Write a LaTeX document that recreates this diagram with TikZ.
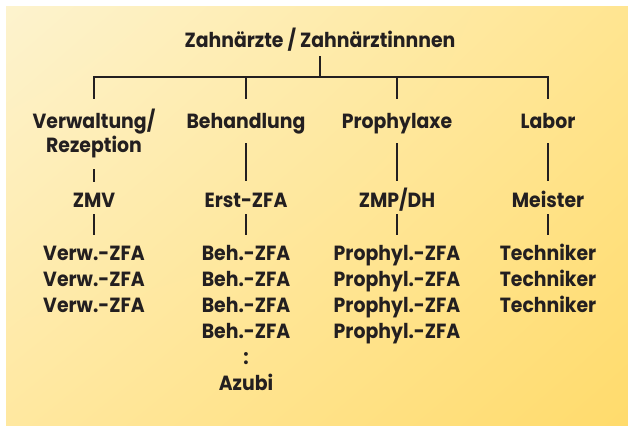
\documentclass[tikz,border=0pt]{standalone}
\usepackage{fontspec}
\setmainfont{Poppins}[UprightFont=* Bold, FakeStretch=0.92]
\usetikzlibrary{shadings}
\definecolor{ink}{RGB}{35,31,32}
\definecolor{bgUL}{RGB}{253,243,206}
\definecolor{bgUR}{RGB}{255,229,145}
\definecolor{bgLL}{RGB}{255,232,160}
\definecolor{bgLR}{RGB}{255,219,108}
\tikzset{
  lbl/.style={inner sep=0pt, text height=14pt, text depth=0pt, anchor=base,
    font=\fontsize{20.5}{20.5}\selectfont, text=ink},
  conn/.style={draw=ink, line width=2.6pt}
}
\begin{document}
\begin{tikzpicture}[x=1pt,y=-1pt]
\useasboundingbox (0,0) rectangle (628,425);
\fill[white] (0,0) rectangle (628,425);
\shade[upper left=bgUL, upper right=bgUR, lower left=bgLL, lower right=bgLR]
  (6,7) rectangle (628,425);

% title
\node[lbl] (title) at (320,48) {Zahnärzte / Zahnärztinnnen};
\coordinate (bar) at (320,77);

% level 2
\node[lbl] (verw) at (94,128.5) {Verwaltung/};
\node[lbl] (rez) at (94,152.5) {Rezeption};
\node[lbl] (beh) at (246,128.5) {Behandlung};
\node[lbl] (pro) at (397,128.5) {Prophylaxe};
\node[lbl] (lab) at (548,128.5) {Labor};

% level 3
\node[lbl] (zmv) at (94,207) {ZMV};
\node[lbl] (erst) at (246,207) {Erst-ZFA};
\node[lbl] (zmp) at (397,207) {ZMP/DH};
\node[lbl] (mei) at (548,207) {Meister};

% level 4
\foreach \i/\y in {1/260,2/286,3/312}{
  \node[lbl] (v\i) at (94,\y) {Verw.-ZFA};
  \node[lbl] (t\i) at (548,\y) {Techniker};
}
\foreach \i/\y in {1/260,2/286,3/312,4/338}{
  \node[lbl] (b\i) at (246,\y) {Beh.-ZFA};
  \node[lbl] (p\i) at (397,\y) {Prophyl.-ZFA};
}
\node[lbl] (dots) at (246,364) {:};
\node[lbl] (azubi) at (246,390) {Azubi};

% connectors
\draw[conn, shorten <=8pt] (title) -- (bar);
\draw[conn, shorten <=15.5pt, shorten >=15.5pt] (verw) |- (bar) -| (lab);
\draw[conn, shorten <=15.5pt] (beh) -- (beh |- bar);
\draw[conn, shorten <=15.5pt] (pro) -- (pro |- bar);

\draw[conn, shorten <=16.5pt, shorten >=11pt] (rez) -- (zmv);
\draw[conn, shorten <=14.5pt, shorten >=12pt] (beh) -- (erst);
\draw[conn, shorten <=14.5pt, shorten >=12pt] (pro) -- (zmp);
\draw[conn, shorten <=14.5pt, shorten >=12pt] (lab) -- (mei);

\draw[conn, shorten <=7pt, shorten >=11pt] (zmv) -- (v1);
\draw[conn, shorten <=7pt, shorten >=11pt] (erst) -- (b1);
\draw[conn, shorten <=7pt, shorten >=11pt] (zmp) -- (p1);
\draw[conn, shorten <=7pt, shorten >=11pt] (mei) -- (t1);
\end{tikzpicture}
\end{document}
